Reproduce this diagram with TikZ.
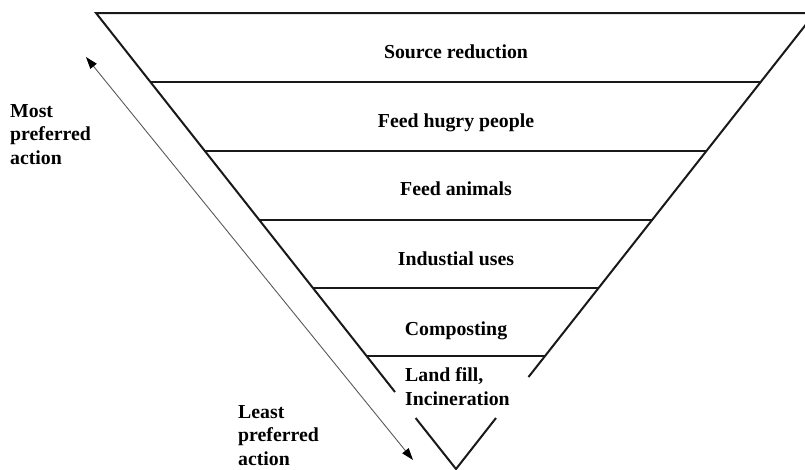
\documentclass[tikz,border=0pt]{standalone}
\usepackage{fontspec}
\setmainfont{Liberation Serif}
\usetikzlibrary{arrows.meta}
\begin{document}
\begin{tikzpicture}[x=1pt,y=-1pt,
  edge/.style={line width=2pt,draw=black!90},
  level/.style={font=\fontsize{19.8}{23.5}\selectfont\bfseries,inner sep=0pt,anchor=base},
  side/.style={font=\fontsize{19.8}{23.5}\selectfont\bfseries,inner sep=0pt,align=left,anchor=base west},
  pref/.style={line width=0.9pt,draw=black!65,
    {Triangle[length=12pt,width=8pt,black]}-{Triangle[length=12pt,width=8pt,black]}}]
\useasboundingbox (0,0) rectangle (805,469);
\clip (0,0) rectangle (805,469);
% triangle corners and gap ends
\coordinate (tl) at (96,13);
\coordinate (tr) at (815,13);
\coordinate (apex) at (456,469);
\coordinate (lgapA) at (395,392);
\coordinate (lgapB) at (415.6,418);
\coordinate (rgapA) at (528.5,377);
\coordinate (rgapB) at (496,418);
% level lines
\coordinate (l1) at (150.4,82);  \coordinate (r1) at (760.7,82);
\coordinate (l2) at (204.5,150.5); \coordinate (r2) at (706.8,150.5);
\coordinate (l3) at (258.9,219.5); \coordinate (r3) at (652.5,219.5);
\coordinate (l4) at (312.9,288); \coordinate (r4) at (598.6,288);
\coordinate (l5) at (366.6,356); \coordinate (r5) at (545,356);
\draw[edge] (tr) -- (tl) -- (lgapA);
\draw[edge] (lgapB) -- (apex) -- (rgapB);
\draw[edge] (rgapA) -- (tr);
\foreach \i in {1,...,5} \draw[edge] (l\i) -- (r\i);
% labels
\node[level] (t1) at (456,58) {Source reduction};
\node[level] (t2) at (456,127) {Feed hugry people};
\node[level] (t3) at (456,195) {Feed animals};
\node[level] (t4) at (456,265) {Industial uses};
\node[level] (t5) at (456,335) {Composting};
\node[side] (t6) at (405,405) {Land fill,\\Incineration};
\node[side] (most) at (10,164) {Most\\preferred\\action};
\node[side] (least) at (238,465) {Least\\preferred\\action};
% arrow
\coordinate (aTop) at (86,57);
\coordinate (aBot) at (413,460);
\draw[pref] (aTop) -- (aBot);
\end{tikzpicture}
\end{document}
